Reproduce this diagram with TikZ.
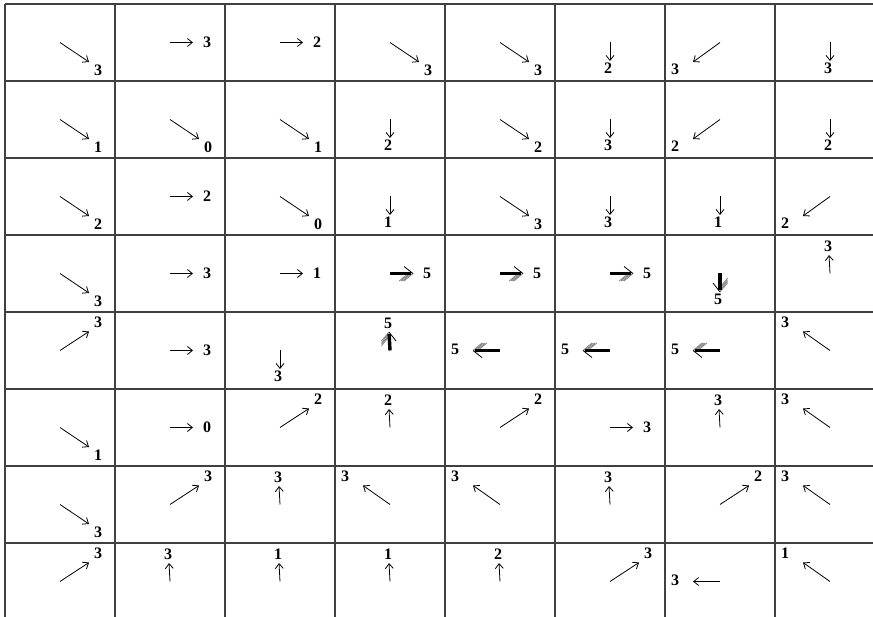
\documentclass[tikz,border=0pt]{standalone}
\usepackage{fontspec}
\setmainfont{Liberation Serif}
\usetikzlibrary{arrows.meta}

\tikzset{
  gridline/.style={draw=black!75, line width=1.6pt},
  arr/.style={-{Straight Barb[length=5pt,width=8pt]}, line width=0.8pt},
  fatline/.style={line width=3.4pt, shorten >=2pt},
  num/.style={font=\fontsize{16}{16}\selectfont\bfseries, inner sep=0pt},
  % arrow tips, from the cell centre
  tipE/.style={shift={(23,0)}},   tipW/.style={shift={(-27,0)}},
  tipN/.style={shift={(-1,-18.5)}}, tipS/.style={shift={(0,18.5)}},
  tipNE/.style={shift={(29,-19)}}, tipSE/.style={shift={(29,19.5)}},
  tipNW/.style={shift={(-27,-19)}}, tipSW/.style={shift={(-27,19.5)}},
  % where the value sits
  labE/.style={shift={(37,0)}},   labW/.style={shift={(-45,-1)}},
  labN/.style={shift={(-2,-27)}}, labS/.style={shift={(-2,26)}},
  labNE/.style={shift={(38,-28)}}, labSE/.style={shift={(38,27.5)}},
  labNW/.style={shift={(-45,-28)}}, labSW/.style={shift={(-45,26.5)}},
  % orientation of the fat heads
  fatE/.style={}, fatW/.style={rotate=180},
  fatN/.style={rotate=90,yscale=-1}, fatS/.style={rotate=-90,yscale=-1},
  fathead/.pic={
    \foreach \k in {0,1.6,3.2,4.8}
      \draw[black!50, line width=0.8pt] (-\k,0) -- (-9-\k,7.5);
    \draw[line width=0.8pt] (0,0) -- (-9,-7);
  }
}

\begin{document}
\begin{tikzpicture}[x=1pt, y=-1pt]
  \useasboundingbox (0,0) rectangle (873,617);

  % grid
  \foreach \c in {0,...,7}
    \draw[gridline] (5+110*\c,4) -- (5+110*\c,617);
  \foreach \r in {0,...,7}
    \draw[gridline] (5,4+77*\r) -- (873,4+77*\r);

  % one arrow and one value per cell
  \foreach \row [count=\r from 0] in {
      {SE/3,E/3,E/2,SE/3,SE/3,S/2,SW/3,S/3},
      {SE/1,SE/0,SE/1,S/2,SE/2,S/3,SW/2,S/2},
      {SE/2,E/2,SE/0,S/1,SE/3,S/3,S/1,SW/2},
      {SE/3,E/3,E/1,E/5,E/5,E/5,S/5,N/3},
      {NE/3,E/3,S/3,N/5,W/5,W/5,W/5,NW/3},
      {SE/1,E/0,NE/2,N/2,NE/2,E/3,N/3,NW/3},
      {SE/3,NE/3,N/3,NW/3,NW/3,N/3,NE/2,NW/3},
      {NE/3,N/3,N/1,N/1,N/2,NE/3,W/3,NW/1}}
    \foreach \d/\v [count=\c from 0] in \row {
      \coordinate (m\r\c) at (60+110*\c, 42.5+77*\r);
      \coordinate[tip\d] (t\r\c) at (m\r\c);
      \ifnum\v=5
        \pic[fat\d] at (t\r\c) {fathead};
        \draw[fatline] (m\r\c) -- (t\r\c);
      \else
        \draw[arr] (m\r\c) -- (t\r\c);
      \fi
      \node[num, lab\d] (n\r\c) at (m\r\c) {\v};
    }
\end{tikzpicture}
\end{document}
